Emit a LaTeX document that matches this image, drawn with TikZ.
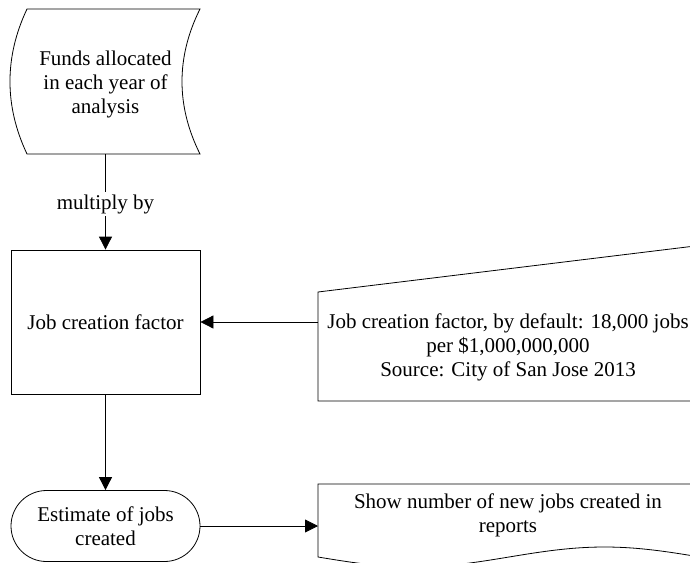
\documentclass[tikz,border=0pt]{standalone}
\usepackage{fontspec}
\setmainfont{Liberation Serif}
\usetikzlibrary{arrows.meta}
\begin{document}
\begin{tikzpicture}[x=1pt,y=-1pt,
  shapeline/.style={draw=black, line width=0.8pt},
  txt/.style={font=\fontsize{21}{24}\selectfont, align=center, inner sep=0pt},
  arrowline/.style={draw=black, line width=0.8pt, -{Triangle[length=13pt,width=13pt]}},
]
\useasboundingbox (0,0) rectangle (690,562);
\clip (0,0) rectangle (690,562);

% stored data: funds
\draw[shapeline] (27,9) -- (200,9)
  .. controls (176,57) and (176,106) .. (200,154) -- (27,154)
  .. controls (4.3,106) and (4.3,57) .. (27,9) -- cycle;
\node[txt] (funds) at (105.5,84) {Funds allocated\\in each year of\\analysis};
\coordinate (funds-s) at (105.5,154);

% process: job creation factor
\node[shapeline, txt, minimum width=189pt, minimum height=144pt] (factor) at (105.5,322) {Job creation factor};

% manual input: default factor and source
\draw[shapeline] (318,292) -- (700,245.4) -- (700,401) -- (318,401) -- cycle;
\node[txt] (source) at (508,347) {Job creation factor, by default: 18,000 jobs\\per \$1,000,000,000\\Source: City of San Jose 2013};
\coordinate (source-w) at (318,322);

% terminator: estimate
\node[shapeline, txt, minimum width=189pt, minimum height=71pt, rounded corners=35.5pt] (estimate) at (105.5,526) {Estimate of jobs\\created};

% document: reports, with a wavy lower edge
\draw[shapeline] (700,557) -- (700,484) -- (318,484) -- (318,557)
  -- plot[domain=0:360, samples=80] ({318+\x/360*382},{557+10*sin(\x)});
\node[txt] (report) at (508,515) {Show number of new jobs created in\\reports};
\coordinate (report-w) at (318,526);

% connectors
\draw[arrowline] (funds-s) -- (factor.north);
\node[txt, fill=white, inner sep=2pt] (mult) at (105.5,204) {multiply by};
\draw[arrowline] (source-w) -- (factor.east);
\draw[arrowline] (factor.south) -- (estimate.north);
\draw[arrowline] (estimate.east) -- (report-w);
\end{tikzpicture}
\end{document}
